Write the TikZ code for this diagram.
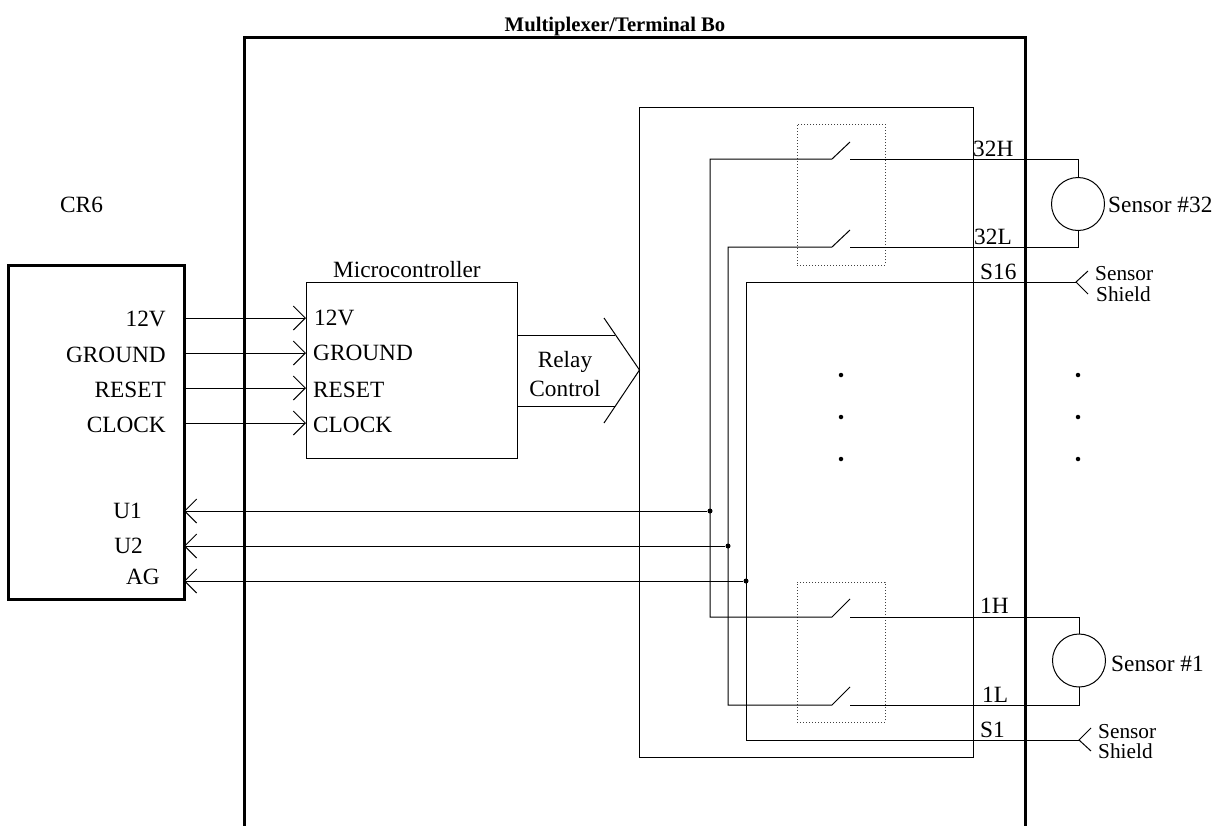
\documentclass[tikz,border=0pt]{standalone}
\usepackage{fontspec}
\setmainfont{Liberation Serif}
\usetikzlibrary{shapes,arrows.meta,positioning,calc}
\tikzset{
  lbl/.style={inner sep=0pt, font=\fontsize{23.3}{24}\selectfont, anchor=base west},
  lblr/.style={lbl, anchor=base east},
  lblc/.style={lbl, anchor=base},
  small/.style={inner sep=0pt, font=\fontsize{21.3}{24}\selectfont, anchor=base west},
  wire/.style={line width=1pt},
  box/.style={draw, line width=1pt, inner sep=0pt, outer sep=0pt},
  heavybox/.style={box, line width=3pt},
  dotbox/.style={box, dotted, line width=0.8pt, draw=black!75},
  sig/.style={wire, -{Straight Barb[length=12pt,width=24pt]}},
  sensor/.style={circle, draw, line width=1pt, minimum size=53pt, inner sep=0pt, outer sep=0pt},
  junction/.style={circle, fill, inner sep=0pt, minimum size=5pt},
  dotmark/.style={circle, fill, inner sep=0pt, minimum size=4.5pt}
}
\begin{document}
\begin{tikzpicture}[x=1pt, y=-1pt]
  \useasboundingbox (0,0) rectangle (1220,825);
  % boxes
  \coordinate (outerbl) at (244,826);
  \coordinate (outertl) at (244,37);
  \coordinate (outertr) at (1025,37);
  \coordinate (outerbr) at (1025,826);
  \node[heavybox, minimum width=176pt, minimum height=334pt] (cr) at (96,432) {};
  \node[box, minimum width=211pt, minimum height=176pt] (micro) at (411.5,370) {};
  \node[box, minimum width=334pt, minimum height=650pt] (mux) at (806,432) {};
  \node[dotbox, minimum width=88pt, minimum height=141pt] (relayhi) at (841,194.5) {};
  \node[dotbox, minimum width=88pt, minimum height=140pt] (relaylo) at (841,652) {};
  \node[sensor] (senshi) at (1078,204) {};
  \node[sensor] (senslo) at (1079,660.5) {};
  % signals into the microcontroller
  \draw[sig] (184,318) coordinate (crA) -- (306,318) coordinate (mcA);
  \draw[sig] (184,353) coordinate (crB) -- (306,353) coordinate (mcB);
  \draw[sig] (184,388) coordinate (crC) -- (306,388) coordinate (mcC);
  \draw[sig] (184,423) coordinate (crD) -- (306,423) coordinate (mcD);
  % relay control
  \coordinate (rcA) at (517,335);
  \coordinate (rcB) at (517,406);
  \coordinate (rcC) at (615,335);
  \coordinate (rcD) at (615,406);
  \coordinate (chevT) at (604,318);
  \coordinate (chevM) at (639.5,370);
  \coordinate (chevB) at (604,423);
  \draw[wire] (rcA) -- (rcC);
  \draw[wire] (rcB) -- (rcD);
  \draw[wire] (chevT) -- (chevM) -- (chevB);
  % junctions and return lines
  \node[junction] (juA) at (710,511) {};
  \node[junction] (juB) at (728,546) {};
  \node[junction] (juC) at (746,581) {};
  \coordinate (crU) at (184,511);
  \coordinate (crV) at (184,546);
  \coordinate (crG) at (184,581);
  \draw[sig] (juA) -- (crU);
  \draw[sig] (juB) -- (crV);
  \draw[sig] (juC) -- (crG);
  % upper relay
  \coordinate (sw32a) at (832,159);
  \coordinate (sw32b) at (850,142);
  \coordinate (sw32c) at (850,159);
  \coordinate (sw32d) at (832,247);
  \coordinate (sw32e) at (850,230);
  \coordinate (sw32f) at (850,247);
  \coordinate (hi32) at (1078,159);
  \coordinate (lo32) at (1078,247);
  \draw[wire] (juA.center) |- (sw32a) -- (sw32b);
  \draw[wire] (sw32c) -- (hi32) -- (senshi);
  \draw[wire] (juB.center) |- (sw32d) -- (sw32e);
  \draw[wire] (sw32f) -- (lo32) -- (senshi);
  % lower relay
  \coordinate (sw1a) at (832,617);
  \coordinate (sw1b) at (850,599);
  \coordinate (sw1c) at (850,617);
  \coordinate (sw1d) at (832,705);
  \coordinate (sw1e) at (850,687);
  \coordinate (sw1f) at (850,705);
  \coordinate (hi1) at (1079,617);
  \coordinate (lo1) at (1079,705);
  \draw[wire] (juA.center) |- (sw1a) -- (sw1b);
  \draw[wire] (sw1c) -- (hi1) -- (senslo);
  \draw[wire] (juB.center) |- (sw1d) -- (sw1e);
  \draw[wire] (sw1f) -- (lo1) -- (senslo);
  % shields
  \coordinate (shA) at (1076,282);
  \coordinate (shAt) at (1088,271);
  \coordinate (shAb) at (1088,294);
  \coordinate (shB) at (1079,740);
  \coordinate (shBt) at (1091,728);
  \coordinate (shBb) at (1091,751);
  \draw[wire] (juC.center) |- (shA);
  \draw[wire] (juC.center) |- (shB);
  \draw[wire] (shAt) -- (shA) -- (shAb);
  \draw[wire] (shBt) -- (shB) -- (shBb);
  \draw[line width=3pt] (outerbl) -- (outertl) -- (outertr) -- (outerbr);
  % dots
  \node[dotmark] (dota) at (841,375) {};
  \node[dotmark] (dotb) at (841,417) {};
  \node[dotmark] (dotc) at (841,459) {};
  \node[dotmark] (dotd) at (1078,375) {};
  \node[dotmark] (dote) at (1078,417) {};
  \node[dotmark] (dotf) at (1078,459) {};
  % labels
  \node[lblc, font=\fontsize{20.7}{24}\selectfont\bfseries] (title) at (615,31) {Multiplexer/Terminal Bo};
  \node[lbl] (crname) at (60,212) {CR6};
  \node[lblr] (crtA) at (166,326) {12V};
  \node[lblr] (crtB) at (166,362) {GROUND};
  \node[lblr] (crtC) at (166,397) {RESET};
  \node[lblr] (crtD) at (166,432) {CLOCK};
  \node[lblr] (crtU) at (142,518) {U1};
  \node[lblr] (crtV) at (143,553) {U2};
  \node[lblr] (crtG) at (160,584) {AG};
  \node[lbl] (mcname) at (333,277) {Microcontroller};
  \node[lbl] (mctA) at (314,325) {12V};
  \node[lbl] (mctB) at (313,360) {GROUND};
  \node[lbl] (mctC) at (313,397) {RESET};
  \node[lbl] (mctD) at (313,432) {CLOCK};
  \node[lblc] (relayt) at (565,367) {Relay};
  \node[lblc] (relayb) at (565,396) {Control};
  \node[lbl] (thi) at (973,156) {32H};
  \node[lbl] (tlo) at (974,244) {32L};
  \node[lbl] (tsh) at (980,279) {S16};
  \node[lbl] (bhi) at (980,613) {1H};
  \node[lbl] (blo) at (982,702) {1L};
  \node[lbl] (bsh) at (980,737) {S1};
  \node[lbl] (snhi) at (1108,212) {Sensor \#32};
  \node[lbl] (snlo) at (1111,671) {Sensor \#1};
  \node[small] (shAu) at (1095,280) {Sensor};
  \node[small] (shAl) at (1096,301) {Shield};
  \node[small] (shBu) at (1098,738) {Sensor};
  \node[small] (shBl) at (1098,758) {Shield};
\end{tikzpicture}
\end{document}
